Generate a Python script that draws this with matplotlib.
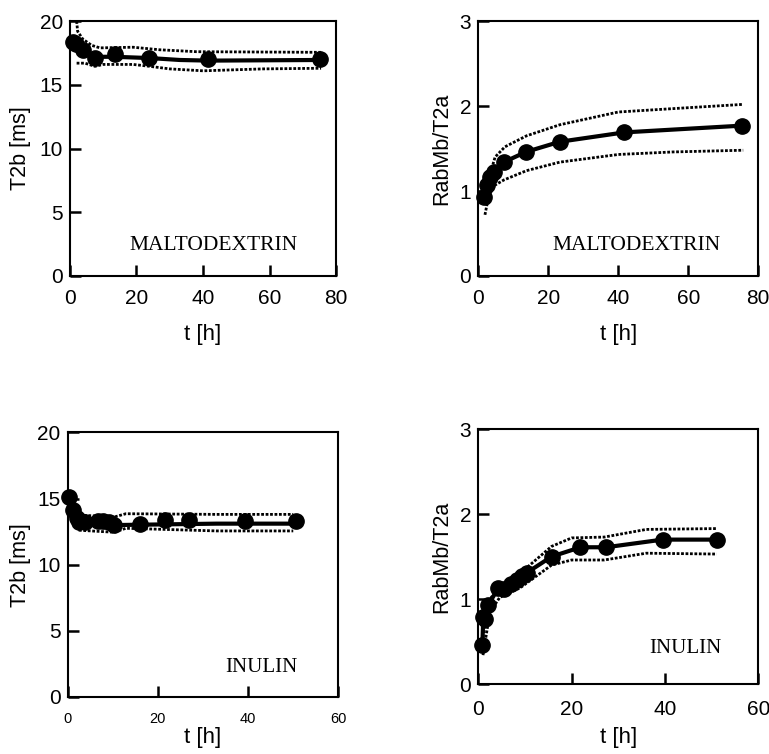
import numpy as np
import matplotlib
matplotlib.use('Agg')
import matplotlib.pyplot as plt

plt.rcParams['font.family'] = ['Liberation Sans', 'DejaVu Sans']

# maltodextrin, T2b
md_t = [0.8, 1.8, 3.8, 7.5, 13.4, 23.7, 41.6, 75.3]
md_t2b = [18.4, 18.2, 17.75, 17.1, 17.4, 17.1, 17.0, 17.0]
md_t2b_fit_x = [0.8, 1.8, 3.8, 7.5, 13.4, 24.0, 33.0, 41.6, 75.3]
md_t2b_fit_y = [18.4, 18.0, 17.6, 17.2, 17.2, 17.1, 16.95, 16.9, 16.95]
md_t2b_up_x = [2.0, 2.3, 3.8, 6.5, 9.0, 19.0, 27.0, 38.0, 75.5]
md_t2b_up_y = [20.0, 19.2, 18.6, 18.1, 17.9, 17.95, 17.75, 17.6, 17.55]
md_t2b_lo_x = [2.0, 4.5, 7.5, 10.0, 19.0, 24.0, 30.0, 40.0, 58.0, 75.5]
md_t2b_lo_y = [16.7, 16.7, 16.45, 16.6, 16.6, 16.45, 16.25, 16.1, 16.25, 16.3]

# maltodextrin, RabMb/T2a
md_t_r = [1.6, 2.4, 3.3, 4.6, 7.3, 13.6, 23.3, 41.7, 75.5]
md_r = [0.93, 1.07, 1.16, 1.22, 1.34, 1.46, 1.58, 1.69, 1.77]
md_r_up_x = [2.0, 3.0, 4.8, 7.6, 13.8, 23.3, 40.0, 55.7, 75.7]
md_r_up_y = [0.85, 1.15, 1.4, 1.52, 1.65, 1.78, 1.93, 1.97, 2.02]
md_r_lo_x = [1.9, 3.0, 4.8, 7.3, 13.8, 23.3, 40.0, 55.7, 75.7]
md_r_lo_y = [0.72, 0.95, 1.07, 1.13, 1.24, 1.34, 1.43, 1.46, 1.48]

# inulin, T2b
in_t = [0.2, 1.1, 2.0, 2.6, 3.9, 6.7, 7.9, 9.2, 10.3, 16.0, 21.6, 27.0, 39.2, 50.6]
in_t2b = [15.1, 14.1, 13.5, 13.2, 13.2, 13.3, 13.3, 13.2, 13.0, 13.1, 13.4, 13.4, 13.3, 13.3]
in_t2b_fit_x = [0.2, 1.1, 2.6, 10.3, 12.0, 33.0, 50.6]
in_t2b_fit_y = [15.1, 14.0, 13.2, 13.0, 13.0, 13.1, 13.1]
in_t2b_up_x = [1.5, 2.6, 10.3, 12.9, 33.0, 50.0]
in_t2b_up_y = [14.3, 13.75, 13.6, 13.85, 13.8, 13.8]
in_t2b_lo_x = [1.5, 2.6, 10.3, 12.9, 33.0, 50.0]
in_t2b_lo_y = [13.2, 12.6, 12.45, 12.75, 12.55, 12.55]

# inulin, RabMb/T2a
in_t_r = [0.86, 1.07, 1.5, 2.1, 4.3, 5.5, 7.1, 8.2, 9.3, 10.4, 15.7, 21.9, 27.4, 39.5, 51.1]
in_r = [0.46, 0.79, 0.77, 0.93, 1.13, 1.12, 1.18, 1.22, 1.27, 1.31, 1.5, 1.61, 1.61, 1.70, 1.70]
in_r_up_x = [1.0, 2.5, 4.6, 8.9, 15.7, 20.0, 27.0, 36.0, 51.1]
in_r_up_y = [0.55, 1.0, 1.15, 1.3, 1.62, 1.72, 1.73, 1.82, 1.83]
in_r_lo_x = [1.0, 2.5, 4.6, 8.9, 15.7, 20.0, 27.0, 36.0, 51.1]
in_r_lo_y = [0.34, 0.85, 1.02, 1.13, 1.4, 1.46, 1.46, 1.54, 1.53]

fig = plt.figure(figsize=(7.69, 7.54), dpi=100)

ax1 = fig.add_axes([0.091, 0.634, 0.346, 0.338])
ax2 = fig.add_axes([0.622, 0.634, 0.364, 0.338])
ax3 = fig.add_axes([0.088, 0.0756, 0.352, 0.351])
ax4 = fig.add_axes([0.622, 0.0928, 0.364, 0.338])

dot = (0, (1.0, 0.6))


def draw(ax, px, py, fx, fy, ux, uy, lx, ly):
    ax.plot(ux, uy, color='k', lw=2, ls=dot)
    ax.plot(lx, ly, color='k', lw=2, ls=dot)
    ax.plot(fx, fy, color='k', lw=3)
    ax.plot(px, py, 'o', color='k', ms=11, clip_on=False)


draw(ax1, md_t, md_t2b, md_t2b_fit_x, md_t2b_fit_y,
     md_t2b_up_x, md_t2b_up_y, md_t2b_lo_x, md_t2b_lo_y)
draw(ax2, md_t_r, md_r, md_t_r, md_r,
     md_r_up_x, md_r_up_y, md_r_lo_x, md_r_lo_y)
draw(ax3, in_t, in_t2b, in_t2b_fit_x, in_t2b_fit_y,
     in_t2b_up_x, in_t2b_up_y, in_t2b_lo_x, in_t2b_lo_y)
draw(ax4, in_t_r, in_r, in_t_r, in_r,
     in_r_up_x, in_r_up_y, in_r_lo_x, in_r_lo_y)

ax1.set_xlim(0, 80)
ax1.set_ylim(0, 20)
ax1.set_xticks([0, 20, 40, 60, 80])
ax1.set_yticks([0, 5, 10, 15, 20])
ax2.set_xlim(0, 80)
ax2.set_ylim(0, 3)
ax2.set_xticks([0, 20, 40, 60, 80])
ax2.set_yticks([0, 1, 2, 3])
ax3.set_xlim(0, 60)
ax3.set_ylim(0, 20)
ax3.set_xticks([0, 20, 40, 60])
ax3.set_yticks([0, 5, 10, 15, 20])
ax4.set_xlim(0, 60)
ax4.set_ylim(0, 3)
ax4.set_xticks([0, 20, 40, 60])
ax4.set_yticks([0, 1, 2, 3])

for ax in [ax1, ax2, ax3, ax4]:
    for s in ax.spines.values():
        s.set_linewidth(1.5)
    ax.tick_params(direction='in', length=8, width=1.8, labelsize=15)
    ax.tick_params(axis='y', pad=5)
    ax.tick_params(axis='x', pad=9.5)
ax3.tick_params(axis='x', labelsize=10.5, pad=11)
ax4.tick_params(axis='x', pad=11.5)

for ax in [ax1, ax2, ax3, ax4]:
    ax.set_xlabel('t [h]', fontsize=16)
ax1.set_ylabel('T2b [ms]', fontsize=15.5)
ax2.set_ylabel('RabMb/T2a', fontsize=15.5)
ax3.set_ylabel('T2b [ms]', fontsize=15.5)
ax4.set_ylabel('RabMb/T2a', fontsize=15.5)

ax1.xaxis.set_label_coords(0.5, -0.19)
ax1.yaxis.set_label_coords(-0.145, 0.5)
ax2.xaxis.set_label_coords(0.5, -0.19)
ax2.yaxis.set_label_coords(-0.093, 0.5)
ax3.xaxis.set_label_coords(0.5, -0.115)
ax3.yaxis.set_label_coords(-0.137, 0.5)
ax4.xaxis.set_label_coords(0.5, -0.17)
ax4.yaxis.set_label_coords(-0.093, 0.5)

tfont = dict(family=['Liberation Serif', 'DejaVu Serif'],
             ha='center', va='center')
ax1.text(43.3, 2.4, 'MALTODEXTRIN', fontsize=15.5, **tfont)
ax2.text(45.3, 0.36, 'MALTODEXTRIN', fontsize=15.5, **tfont)
ax3.text(43.0, 2.26, 'INULIN', fontsize=15, **tfont)
ax4.text(44.4, 0.42, 'INULIN', fontsize=15, **tfont)

fig.savefig('out.png', dpi=100)
